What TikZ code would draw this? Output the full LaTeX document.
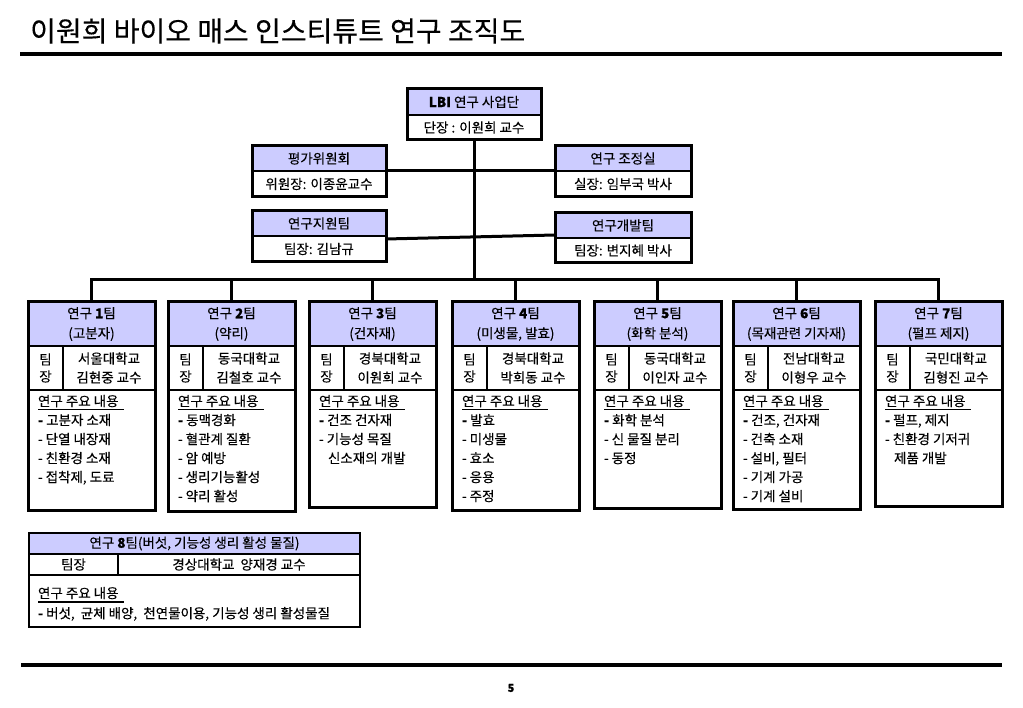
\documentclass[tikz,border=0pt]{standalone}
\usepackage{fontspec}
\setmainfont{Noto Sans CJK KR}[FakeBold=0.25]
\definecolor{hdrfill}{HTML}{CCCCFF}
\newcommand\fsA{\fontsize{13.5}{19}\selectfont}
\newcommand\fsH{\fontsize{13.5}{20}\selectfont}
\newcommand\fsL{\fontsize{13.5}{17}\selectfont}
\tikzset{
  box/.style={draw, line width=1.2pt, inner sep=0pt, outer sep=0pt, align=center, font=\fsA},
  hdr/.style={box, fill=hdrfill, font=\fsH},
  outer/.style={draw, line width=3pt},
  conn/.style={draw, line width=3pt},
  list/.style={inner sep=0pt, outer sep=0pt, align=left, font=\fsA, anchor=north west},
  uline/.style={draw=black, line width=1.8pt},
}
% #1 name, #2 left x, #3 bottom y, #4 header, #5 leader, #6 contents
\newcommand\mkteam[6]{%
  \node[hdr, anchor=north west, minimum width=127pt, minimum height=44pt] (#1h) at (#2,302) {#4};
  \node[box, anchor=north west, minimum width=35pt, minimum height=44pt, font=\fsL] (#1a) at (#1h.south west) {팀\\장};
  \node[box, anchor=north east, minimum width=92pt, minimum height=44pt] (#1b) at (#1h.south east) {#5};
  \node[list] (#1u) at ({#2+10},395) {연구 주요 내용};
  \coordinate (#1ul) at ({#2+10},409.5);
  \coordinate (#1ur) at ({#2+10+\ulw},409.5);
  \draw[uline] (#1ul) -- (#1ur);
  \node[list] (#1c) at ({#2+10},414) {#6};
  \draw[outer] (#1h.north west) rectangle ({#2+127},#3);
}
\newcommand\ulw{86}
\begin{document}
\begin{tikzpicture}[x=1pt,y=-1pt]
\fill[white] (0,0) rectangle (1023,708);
\useasboundingbox (0,0) rectangle (1023,708);

% title
\node[anchor=west, inner sep=0pt, font=\fontsize{28}{32}\selectfont] (title) at (30,31) {이원희 바이오 매스 인스티튜트 연구 조직도};
\coordinate (tl1) at (20,54.5);
\coordinate (tl2) at (1002,54.5);
\draw[line width=4pt] (tl1) -- (tl2);

% top box
\node[hdr, anchor=north west, minimum width=134pt, minimum height=26pt] (lbih) at (407,89) {\textbf{LBI} 연구 사업단};
\node[box, anchor=north, minimum width=134pt, minimum height=25pt] (lbis) at (lbih.south) {단장 : 이원희 교수};
\draw[outer] (lbih.north west) rectangle (lbis.south east);

% side boxes
\node[hdr, anchor=north west, minimum width=134pt, minimum height=25pt] (pyh) at (252,146) {평가위원회};
\node[box, anchor=north, minimum width=134pt, minimum height=26pt] (pys) at (pyh.south) {위원장: 이종윤교수};
\draw[outer] (pyh.north west) rectangle (pys.south east);

\node[hdr, anchor=north west, minimum width=136pt, minimum height=25pt] (jsh) at (555,146) {연구 조정실};
\node[box, anchor=north, minimum width=136pt, minimum height=26pt] (jss) at (jsh.south) {실장: 임부국 박사};
\draw[outer] (jsh.north west) rectangle (jss.south east);

\node[hdr, anchor=north west, minimum width=134pt, minimum height=25pt] (jwh) at (252,211) {연구지원팀};
\node[box, anchor=north, minimum width=134pt, minimum height=26pt] (jws) at (jwh.south) {팀장: 김남규};
\draw[outer] (jwh.north west) rectangle (jws.south east);

\node[hdr, anchor=north west, minimum width=136pt, minimum height=25pt] (gbh) at (555,213) {연구개발팀};
\node[box, anchor=north, minimum width=136pt, minimum height=25pt] (gbs) at (gbh.south) {팀장: 변지혜 박사};
\draw[outer] (gbh.north west) rectangle (gbs.south east);

% teams
\mkteam{t1}{28}{510}{연구 \textbf{1}팀\\(고분자)}{서울대학교\\김현중 교수}{\textbf{-} 고분자 소재\\- 단열 내장재\\- 친환경 소재\\- 접착제, 도료}
\mkteam{t2}{168}{511}{연구 \textbf{2}팀\\(약리)}{동국대학교\\김철호 교수}{\textbf{-} 동맥경화\\- 혈관계 질환\\- 암 예방\\- 생리기능활성\\- 약리 활성}
\mkteam{t3}{309}{507}{연구 \textbf{3}팀\\(건자재)}{경북대학교\\이원희 교수}{\textbf{-} 건조 건자재\\- 기능성 목질\\\hspace*{9pt}신소재의 개발}
\mkteam{t4}{452}{510}{연구 \textbf{4}팀\\(미생물, 발효)}{경북대학교\\박희동 교수}{\textbf{-} 발효\\- 미생물\\- 효소\\- 응용\\- 주정}
\mkteam{t5}{594}{508}{연구 \textbf{5}팀\\(화학 분석)}{동국대학교\\이인자 교수}{\textbf{-} 화학 분석\\- 신 물질 분리\\- 동정}
\mkteam{t6}{733}{509}{연구 \textbf{6}팀\\(목재관련 기자재)}{전남대학교\\이형우 교수}{\textbf{-} 건조, 건자재\\- 건축 소재\\- 설비, 필터\\- 기계 가공\\- 기계 설비}
\mkteam{t7}{875}{506}{연구 \textbf{7}팀\\(펄프 제지)}{국민대학교\\김형진 교수}{\textbf{-} 펄프, 제지\\- 친환경 기저귀\\\hspace*{9pt}제품 개발}

% connectors
\coordinate (bus) at (lbis.south |- 0,280);
\draw[conn] (lbis.south) -- (bus);
\draw[conn] (pyh.south east) -- (jsh.south west);
\draw[conn] (jws.north east |- 0,239) -- (gbs.north west |- 0,235);
\draw[conn] (t1h.north) |- (bus) -| (t7h.north);
\foreach \t in {t2,t3,t4,t5,t6}{
  \draw[conn] (\t h.north) -- (\t h.north |- bus);
}

% team 8
\node[hdr, anchor=north west, minimum width=331pt, minimum height=21pt] (t8h) at (29,533) {연구 \textbf{8}팀(버섯, 기능성 생리 활성 물질)};
\node[box, anchor=north west, minimum width=89pt, minimum height=21pt] (t8a) at (t8h.south west) {팀장};
\node[box, anchor=north east, minimum width=242pt, minimum height=21pt] (t8b) at (t8h.south east) {경상대학교\ \ 양재경 교수};
\node[list] (t8u) at (38,587) {연구 주요 내용};
\coordinate (t8ul) at (38,602);
\coordinate (t8ur) at ({38+\ulw},602);
\draw[uline] (t8ul) -- (t8ur);
\node[list] (t8c) at (38,607) {\textbf{-} 버섯,\ \ 균체 배양,\ \ 천연물이용, 기능성 생리 활성물질};
\draw[line width=1.8pt] (t8h.north west) rectangle (360,627);

% footer
\coordinate (fl1) at (21,665);
\coordinate (fl2) at (1002,665);
\draw[line width=4pt] (fl1) -- (fl2);
\node[font=\bfseries\fontsize{11}{13}\selectfont, inner sep=0pt] (pg) at (511,688) {5};
\end{tikzpicture}
\end{document}
